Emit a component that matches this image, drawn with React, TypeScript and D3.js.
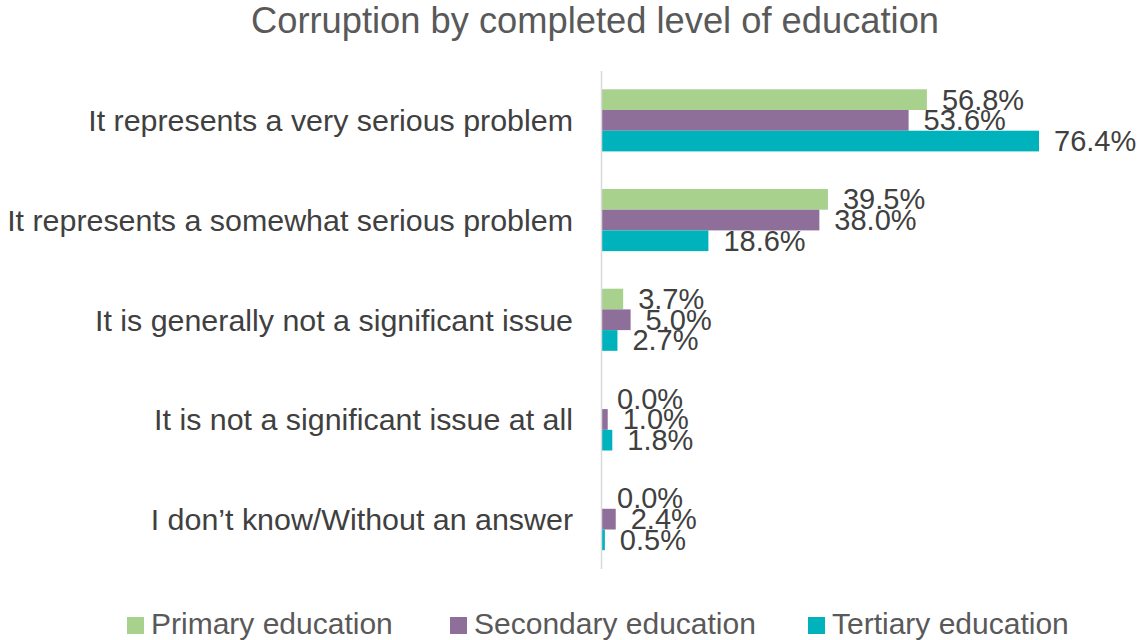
import React from "react";
import * as d3 from "d3";

const categories = [
  "It represents a very serious problem",
  "It represents a somewhat serious problem",
  "It is generally not a significant issue",
  "It is not a significant issue at all",
  "I don\u2019t know/Without an answer",
];
const seriesNames = ["Primary education", "Secondary education", "Tertiary education"];
const primary = [56.8, 39.5, 3.7, 0.0, 0.0];
const secondary = [53.6, 38.0, 5.0, 1.0, 2.4];
const tertiary = [76.4, 18.6, 2.7, 1.8, 0.5];
const colors = ["#a9d18e", "#8e6f9a", "#00b2bb"];
const title = "Corruption by completed level of education";

const W = 1140;
const H = 640;
const FONT = "'Liberation Sans', Arial, sans-serif";

export default function App() {
  const series = [primary, secondary, tertiary];
  const x = d3.scaleLinear().domain([0, 100]).range([602, 1174]);
  const y = d3
    .scaleBand<string>()
    .domain(categories)
    .range([70.5, 569])
    .paddingInner(0.377)
    .paddingOuter(0.1885);
  const inner = d3
    .scaleBand<number>()
    .domain([0, 1, 2])
    .range([0, y.bandwidth()]);

  const legendX = [127, 450, 808];

  return (
    <svg
      width={W}
      height={H}
      style={{ position: "absolute", left: 0, top: 0, background: "#fff" }}
      fontFamily={FONT}
    >
      <text x={595} y={33} textAnchor="middle" fontSize={36.3} fill="#595959">
        {title}
      </text>
      {categories.map((c, i) => (
        <g key={c}>
          <text
            x={573}
            y={(y(c) ?? 0) + y.bandwidth() / 2}
            textAnchor="end"
            dominantBaseline="central"
            fontSize={30.4}
            fill="#404040"
          >
            {c}
          </text>
          {series.map((s, j) => {
            const by = (y(c) ?? 0) + (inner(j) ?? 0);
            const bh = inner.bandwidth();
            return (
              <g key={j}>
                <rect
                  x={x(0)}
                  y={by}
                  width={Math.max(0, x(s[i]) - x(0))}
                  height={bh}
                  fill={colors[j]}
                />
                <text
                  x={x(s[i]) + 15}
                  y={by + bh / 2}
                  dominantBaseline="central"
                  fontSize={29}
                  fill="#404040"
                >
                  {s[i].toFixed(1) + "%"}
                </text>
              </g>
            );
          })}
        </g>
      ))}
      <line x1={601.5} x2={601.5} y1={71} y2={569} stroke="#d9d9d9" strokeWidth={1.5} />
      {seriesNames.map((n, j) => (
        <g key={n}>
          <rect x={legendX[j]} y={617} width={17} height={17} fill={colors[j]} />
          <text
            x={legendX[j] + 24}
            y={634}
            fontSize={30}
            fill="#595959"
          >
            {n}
          </text>
        </g>
      ))}
    </svg>
  );
}
